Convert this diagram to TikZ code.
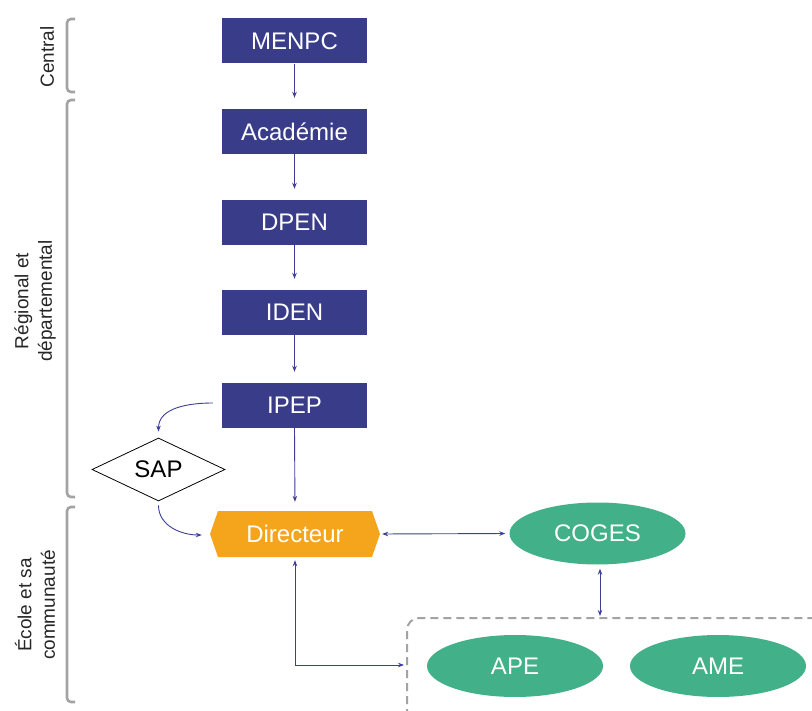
\documentclass[tikz,border=0pt]{standalone}
\usepackage{fontspec}
\setmainfont{Liberation Sans}
\usetikzlibrary{arrows.meta,shapes.geometric}
\definecolor{navy}{HTML}{383C89}
\definecolor{arrowc}{HTML}{3B3F96}
\definecolor{orng}{HTML}{F5A51C}
\definecolor{grn}{HTML}{42B088}
\definecolor{brkc}{HTML}{A3A3A3}
\begin{document}
\begin{tikzpicture}[x=1pt,y=1pt,
  navybox/.style={fill=navy,text=white,minimum width=145pt,minimum height=45pt,inner sep=0pt,font=\fontsize{24}{28}\selectfont},
  oval/.style={ellipse,fill=grn,text=white,minimum width=176pt,minimum height=62pt,inner sep=0pt,font=\fontsize{24}{28}\selectfont},
  arr/.style={draw=arrowc,line width=0.9pt,-{Stealth[length=6pt,width=4.5pt]}},
  dbl/.style={draw=arrowc,line width=0.9pt,{Stealth[length=6pt,width=4.5pt]}-{Stealth[length=6pt,width=4.5pt]}},
  brk/.style={draw=brkc,line width=2.6pt,rounded corners=4pt},
  side/.style={rotate=90,align=center,font=\fontsize{19}{23.5}\selectfont,text=black!85}]
\useasboundingbox (0,0) rectangle (812,-711);
\clip (0,0) rectangle (812,-711);
% boxes
\node[navybox] (menpc) at (294.5,-41) {MENPC};
\node[navybox] (acad) at (294.5,-131.5) {Académie};
\node[navybox] (dpen) at (294.5,-222.5) {DPEN};
\node[navybox] (iden) at (294.5,-312.5) {IDEN};
\node[navybox] (ipep) at (294.5,-405.5) {IPEP};
\node[diamond,draw=black,line width=0.8pt,aspect=2.1,minimum width=133pt,minimum height=63pt,inner sep=0pt,font=\fontsize{24}{28}\selectfont] (sap) at (158.5,-469.5) {SAP};
\fill[orng] (210,-534) -- (218,-511) -- (372,-511) -- (380,-534) -- (372,-557) -- (218,-557) -- cycle;
\node[text=white,minimum width=170pt,minimum height=46pt,inner sep=0pt,font=\fontsize{24}{28}\selectfont] (dir) at (295,-534) {Directeur};
\node[oval] (coges) at (597.5,-533.5) {COGES};
\node[oval] (ape) at (515,-666) {APE};
\node[oval] (ame) at (718,-666) {AME};
% dashed group
\draw[brkc,line width=2pt,dash pattern=on 8pt off 5pt,rounded corners=12pt] (407,-730) -- (407,-618) -- (840,-618);
\coordinate (boxtop) at (600,-616);
\coordinate (boxleft) at (404,-665);
% arrows
\draw[arr,shorten >=11pt] (menpc.south) -- (acad.north);
\draw[arr,shorten >=11pt] (acad.south) -- (dpen.north);
\draw[arr,shorten >=11pt] (dpen.south) -- (iden.north);
\draw[arr,shorten >=11pt] (iden.south) -- (ipep.north);
\draw[arr,shorten >=9pt] (ipep.south) -- (dir.north);
\draw[arr] ([xshift=-9pt,yshift=2.5pt]ipep.west) to[out=180,in=90] ([yshift=6pt]sap.north);
\draw[arr] ([yshift=-4pt]sap.south) to[out=270,in=180] ([xshift=-8pt,yshift=-1pt]dir.west);
\draw[dbl,shorten <=2pt,shorten >=4pt] (dir.east) -- (coges.west);
\draw[dbl] ([xshift=2.5pt,yshift=-4pt]coges.south) -- (boxtop);
\draw[dbl] ([yshift=-3pt]dir.south) |- (boxleft);
% brackets
\draw[brk] (75,-19) -- (67,-19) -- (67,-92) -- (75,-92);
\draw[brk] (75,-100) -- (67,-100) -- (67,-497) -- (75,-497);
\draw[brk] (75,-507) -- (67,-507) -- (67,-702) -- (75,-702);
\node[side] (lc) at (47,-57) {Central};
\node[side] (lr) at (35,-301) {Régional et\\départemental};
\node[side] (le) at (35,-605) {École et sa\\communauté};
\end{tikzpicture}
\end{document}
